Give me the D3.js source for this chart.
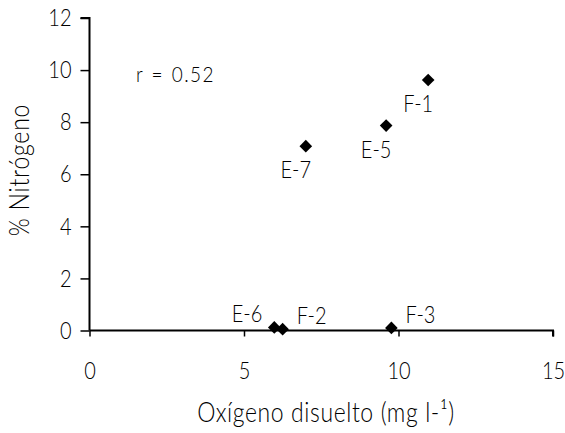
<!DOCTYPE html>
<html><head><meta charset="utf-8">
<script src="https://cdn.jsdelivr.net/npm/d3@7"></script>
<style>body{margin:0;background:#fff}text{font-family:Lato,"Open Sans",sans-serif;font-weight:300;fill:#000}</style>
</head><body><svg id="c" width="565" height="433"></svg>
<script>
const labels = ["F-1","E-5","E-7","E-6","F-2","F-3"];
const oxygen = [10.96,9.6,7.0,5.98,6.25,9.77];
const nitrogen = [9.62,7.87,7.08,0.12,0.05,0.1];
const xTicks = [0,5,10,15];
const yTicks = [0,2,4,6,8,10,12];
const labelPos = ["below","below","below","left","right","right"];

const SY = 1.2; // vertical stretch of the glyphs as in the scanned figure
const svg = d3.select("#c");
const x = d3.scaleLinear().domain([0,15]).range([89.5,553]);
const y = d3.scaleLinear().domain([0,12]).range([330.5,18]);

const gx = svg.append("g").attr("transform",`translate(0,${y(0)})`)
  .call(d3.axisBottom(x).tickValues(xTicks).tickSize(6).tickFormat(d3.format("d")));
const gy = svg.append("g").attr("transform",`translate(${x(0)},0)`)
  .call(d3.axisLeft(y).tickValues(yTicks).tickSize(9).tickPadding(9).tickFormat(d3.format("d")));
[gx,gy].forEach(g=>{
  g.select(".domain").attr("stroke","#000").attr("stroke-width",2);
  g.selectAll(".tick line").attr("stroke","#000").attr("stroke-width",1.5);
  g.selectAll(".tick text").style("font-size","20px").style("font-family","Lato,sans-serif")
    .style("font-weight","300").attr("fill","#000").attr("transform",`scale(1,${SY})`);
});
gx.selectAll(".tick text").attr("y",48.5/SY).attr("dy",0);
gx.select(".domain").attr("d",`M${x(0)},0H${x(15)}V6`);
gy.select(".domain").attr("d",`M-9,${y(12)}H0V${y(0)}`);

const pts = labels.map((l,i)=>({l, x:oxygen[i], y:nitrogen[i], p:labelPos[i]}));
svg.append("g").selectAll("path").data(pts).join("path")
  .attr("d", d3.symbol().type(d3.symbolSquare).size(80))
  .attr("transform", d=>`translate(${x(d.x)},${y(d.y)}) rotate(45)`)
  .attr("fill","#000");

svg.append("g").selectAll("text").data(pts).join("text")
  .attr("transform", d=>{
    const px = x(d.x), py = y(d.y);
    const tx = d.p==="below" ? px-10 : d.p==="left" ? px-12 : px+14;
    const ty = d.p==="below" ? py+32 : py-5;
    return `translate(${tx},${ty}) scale(1,${SY})`;
  })
  .attr("text-anchor", d=> d.p==="below" ? "middle" : d.p==="left" ? "end" : "start")
  .style("font-size","20px")
  .text(d=>d.l);

svg.append("text").attr("transform",`translate(136,82) scale(1,1.1)`)
  .style("font-size","19px").style("letter-spacing","1.5px").style("word-spacing","1px").text("r = 0.52");

svg.append("text").attr("transform",`translate(29,170) rotate(-90) scale(1,${SY})`)
  .attr("text-anchor","middle").style("font-size","23px").style("letter-spacing","0.8px").text("% Nitrógeno");
svg.append("text").attr("transform",`translate(326,422) scale(1,${SY})`)
  .attr("text-anchor","middle").style("font-size","23px").style("letter-spacing","0.6px").text("Oxígeno disuelto (mg l-¹)");
</script></body></html>
